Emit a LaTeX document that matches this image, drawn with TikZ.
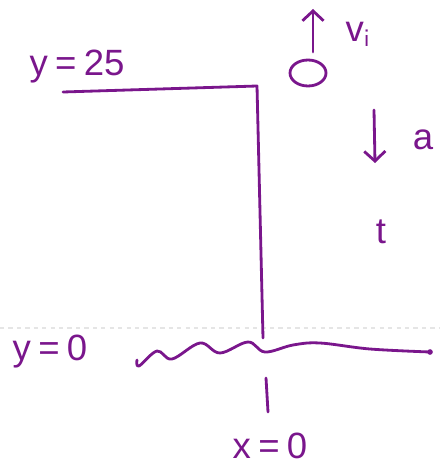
\documentclass[tikz,border=0pt]{standalone}
\usepackage{fontspec}
\setmainfont{Liberation Sans}
\usetikzlibrary{arrows.meta}
\definecolor{pen}{RGB}{122,22,140}
\tikzset{
  ink/.style={draw=pen, line width=2pt, line cap=round, line join=round},
  lbl/.style={text=pen, font=\fontsize{26}{30}\selectfont, inner sep=0pt},
  barb/.style={-{Straight Barb[length=7pt,width=15pt]}}
}
\begin{document}
\begin{tikzpicture}[x=0.025cm, y=-0.025cm]
  \useasboundingbox (0,0) rectangle (440,466);
  % faint ruled line of the paper
  \draw[gray!20, dashed, line width=0.8pt] (0,328) -- (440,328);
  % cliff top and face
  \coordinate (topleft) at (63,92);
  \coordinate (edge) at (257,86);
  \coordinate (foot) at (263,338);
  \draw[ink] (topleft) -- (edge) -- (foot);
  % ground
  \draw[ink] plot[smooth, tension=0.6] coordinates {(137,360) (139,366) (157,351) (172,359) (200,343) (220,353) (248,342) (265,352) (293,345) (320,343) (370,349) (430,352)};
  \fill[pen] (430,352) circle (2pt);
  % origin tick
  \draw[ink] (266,378) -- (268,412);
  % ball and its motion
  \draw[ink] (308,73) ellipse (18 and 13);
  \coordinate (vtail) at (313,52);
  \coordinate (vhead) at (313,9);
  \draw[ink, barb] (vtail) -- (vhead);
  \coordinate (atail) at (374,110);
  \coordinate (ahead) at (375,163);
  \draw[ink, barb] (atail) -- (ahead);
  % labels
  \node[lbl] (ytop) at (77,67) {y\hspace{0.2em}=\hspace{0.2em}25};
  \node[lbl] (vi) at (358,34) {v$_{\mathsf{i}}$};
  \node[lbl] (acc) at (423,140) {a};
  \node[lbl] (time) at (381,232) {t};
  \node[lbl] (ybot) at (50,352) {y\hspace{0.2em}=\hspace{0.2em}0};
  \node[lbl] (xorig) at (270,446) {x\hspace{0.2em}=\hspace{0.2em}0};
\end{tikzpicture}
\end{document}
